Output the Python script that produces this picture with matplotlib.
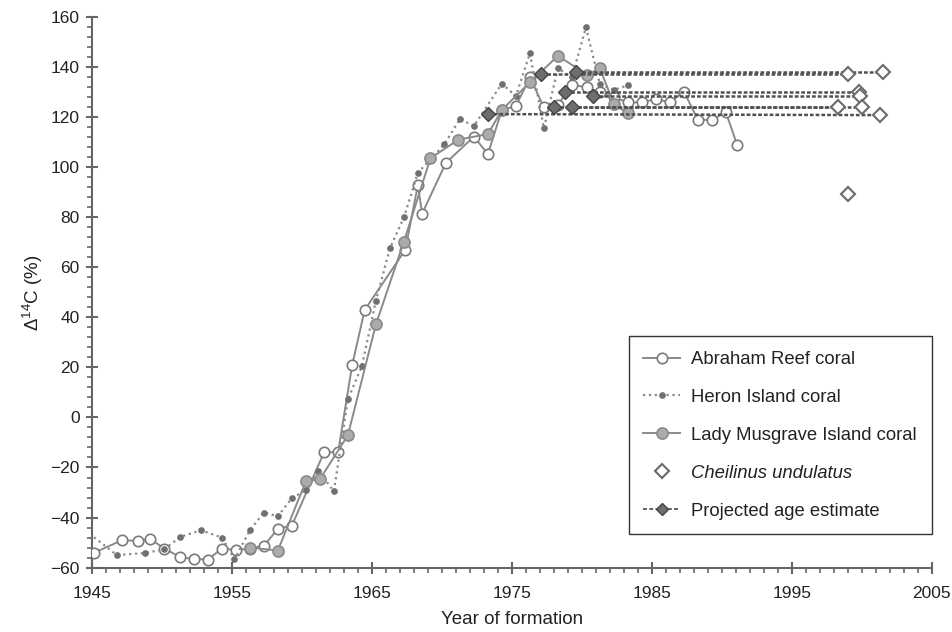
import numpy as np
import matplotlib.pyplot as plt
from matplotlib.ticker import MultipleLocator

plt.rcParams['font.family'] = ['Liberation Sans', 'DejaVu Sans']
plt.rcParams['mathtext.fontset'] = 'custom'
plt.rcParams['mathtext.rm'] = 'Liberation Sans'

# Abraham Reef coral (open circles)
abraham_year = [1945.2, 1947.2, 1948.3, 1949.2, 1950.2, 1951.3, 1952.3, 1953.3, 1954.3,
                1955.3, 1956.3, 1957.3, 1958.3, 1959.3, 1961.6, 1962.6, 1963.6, 1964.5,
                1967.4, 1968.3, 1968.6, 1970.3, 1972.3, 1973.3, 1974.3, 1975.3, 1976.3,
                1977.3, 1978.3, 1979.3, 1980.4, 1981.3, 1982.3, 1983.3, 1984.3, 1985.3,
                1986.3, 1987.3, 1988.3, 1989.3, 1990.3, 1991.1]
abraham_d14c = [-54, -49, -49.4, -48.7, -52.4, -55.8, -56.6, -56.8, -52.4,
                -53, -52.4, -51.3, -44.5, -43.2, -13.9, -13.9, 20.8, 43,
                67, 93, 81.5, 101.8, 112.3, 105.3, 123, 124.5, 136,
                124, 125, 133, 132, 130, 128, 126, 126, 127.3,
                126, 130.3, 119, 119, 122, 109]

# Heron Island coral (small dots, dotted)
heron_year = [1944.5, 1946.8, 1948.8, 1950.2, 1951.3, 1952.8, 1954.3, 1955.2, 1956.3,
              1957.3, 1958.3, 1959.3, 1960.3, 1961.2, 1962.3, 1963.3, 1964.3, 1965.3,
              1966.3, 1967.3, 1968.3, 1970.2, 1971.3, 1972.3, 1974.3, 1975.3, 1976.3,
              1977.3, 1978.3, 1979.3, 1980.3, 1981.3, 1982.3, 1983.3]
heron_d14c = [-45, -55, -54.2, -52.7, -47.8, -45.1, -48, -56.7, -45.1,
              -38, -39.5, -32.2, -29.1, -21.4, -29.5, 7.2, 20.6, 46.6,
              67.6, 80, 97.8, 109.3, 119.4, 116.5, 133.5, 128.5, 145.6,
              115.6, 139.6, 136, 156, 133.3, 131, 132.8]

# Lady Musgrave Island coral (grey filled circles)
lady_year = [1956.3, 1958.3, 1960.3, 1961.3, 1963.3, 1965.3, 1967.3, 1969.2, 1971.2,
             1973.3, 1974.3, 1976.3, 1978.3, 1980.4, 1981.3, 1982.3, 1983.3]
lady_d14c = [-52, -53.2, -25.5, -24.7, -7.1, 37.2, 70.3, 103.7, 111.1,
             113.3, 123, 134, 144.6, 137, 139.6, 125.3, 121.6]

# Cheilinus undulatus (open diamonds)
cheil_year = [2001.3, 1999.0, 2001.5, 1999.8, 1999.9, 2000.0, 1998.3, 1999.0]
cheil_d14c = [120.9, 137.3, 138.3, 130.3, 128.7, 124.0, 124.3, 89.2]

# Projected age estimates (paired with first seven Cheilinus values)
proj_year = [1973.3, 1977.1, 1979.6, 1978.8, 1980.8, 1978.0, 1979.3]
proj_d14c = [121.3, 137.3, 138.3, 130.3, 128.7, 124.0, 124.3]

x_ticks = [1945, 1955, 1965, 1975, 1985, 1995, 2005]

fig = plt.figure(figsize=(9.52, 6.32), dpi=100)
ax = fig.add_axes([0.0963, 0.102, 0.8824, 0.8706])

ax.plot(abraham_year, abraham_d14c, '-', color='#8a8a8a', lw=1.4, marker='o', ms=7.5,
        mfc='white', mec='#7a7a7a', mew=1.2, label='Abraham Reef coral', zorder=3)
ax.plot(heron_year, heron_d14c, ':', color='#8a8a8a', lw=1.6, marker='o', ms=3.8,
        mfc='#707070', mec='#707070', label='Heron Island coral', zorder=3)
ax.plot(lady_year, lady_d14c, '-', color='#8a8a8a', lw=1.4, marker='o', ms=8,
        mfc='#ababab', mec='#8a8a8a', mew=1.2, label='Lady Musgrave Island coral', zorder=3)

# dashed links between projected age and the fish sample
for i in range(len(proj_year)):
    ax.plot([proj_year[i], cheil_year[i]], [proj_d14c[i], cheil_d14c[i]],
            color='#505050', lw=1.8, dashes=(1.5, 0.8), zorder=4)

ax.plot(cheil_year, cheil_d14c, linestyle='none', marker='D', ms=7.3, mfc='white',
        mec='#6a6a6a', mew=1.5, label='Cheilinus undulatus', zorder=5)
ax.plot(proj_year, proj_d14c, linestyle='none', marker='D', ms=7.3, mfc='#6e6e6e',
        mec='#444444', mew=1.0, zorder=6)
# legend proxy for projected age estimate
ax.plot([], [], color='#606060', lw=1.4, dashes=(2, 1.2), marker='D',
        ms=6, mfc='#6e6e6e', mec='#444444', label='Projected age estimate')

ax.set_xlim(1945, 2005)
ax.set_ylim(-60, 160)
ax.set_xticks(x_ticks)
ax.xaxis.set_minor_locator(MultipleLocator(1))
ax.yaxis.set_major_locator(MultipleLocator(20))
ax.yaxis.set_minor_locator(MultipleLocator(4))

for s in ['top', 'right']:
    ax.spines[s].set_visible(False)
for s in ['left', 'bottom']:
    ax.spines[s].set_color('#666666')
    ax.spines[s].set_linewidth(1.5)

ax.tick_params(which='major', direction='inout', length=9, width=1.5, color='#666666',
               labelsize=12.5, labelcolor='#222222')
ax.tick_params(axis='x', which='major', pad=9)
ax.tick_params(axis='y', which='major', pad=4)
ax.tick_params(which='minor', direction='out', length=3.8, width=1.2, color='#666666')

ax.set_xlabel('Year of formation', fontsize=13.5, color='#222222', labelpad=7)
ax.set_ylabel('Δ$^{14}$C (%)', fontsize=13.5, color='#222222', labelpad=4)

leg = ax.legend(loc='lower right', bbox_to_anchor=(1.0, 0.0603), borderaxespad=0,
                fontsize=13.3, frameon=True, fancybox=False, edgecolor='black',
                labelspacing=1.13, handlelength=2.0, handletextpad=0.6, borderpad=0.8)
leg.get_frame().set_linewidth(1.0)
for t in leg.get_texts():
    t.set_color('#222222')
    if t.get_text() == 'Cheilinus undulatus':
        t.set_fontstyle('italic')

fig.savefig('out.png', dpi=100)
